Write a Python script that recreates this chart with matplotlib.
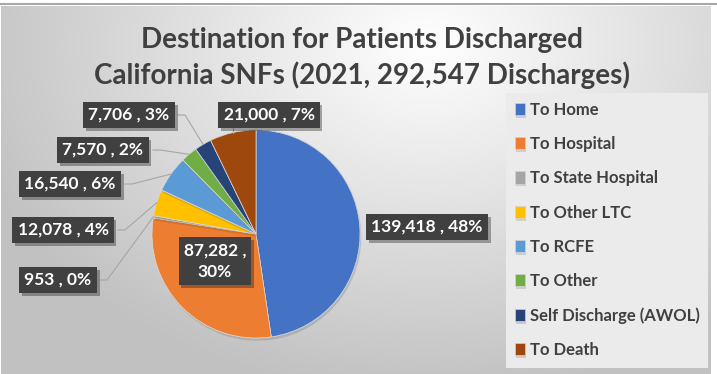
import numpy as np
import matplotlib.pyplot as plt
import matplotlib.patheffects as pe
from matplotlib.patches import Rectangle

plt.rcParams['font.family'] = ['Lato', 'DejaVu Sans']

categories = ["To Home", "To Hospital", "To State Hospital", "To Other LTC",
              "To RCFE", "To Other", "Self Discharge (AWOL)", "To Death"]
discharges = [139418, 87282, 953, 12078, 16540, 7570, 7706, 21000]
percents = [48, 30, 0, 4, 6, 2, 3, 7]   # as printed on the chart
colors = ["#4472C4", "#ED7D31", "#A5A5A5", "#FFC000",
          "#5B9BD5", "#70AD47", "#264478", "#9E480E"]

W, H = 717, 374
fig = plt.figure(figsize=(W / 100, H / 100), dpi=100)
fig.patch.set_facecolor("white")

# background gradient (radial, light near top centre)
bg = fig.add_axes([0.002, 0, 0.99, 0.985])
bg.set_axis_off()
yy, xx = np.mgrid[0:H, 0:W]
d = np.sqrt(((xx - 430) / 520.0) ** 2 + ((yy - 40) / 380.0) ** 2)
g = np.clip(1.0 - 0.26 * d, 0.76, 1.0)
bg.imshow(np.dstack([g, g, g]), aspect="auto", interpolation="bilinear")
fig.add_artist(plt.Line2D([0, 1], [0.988, 0.988], color="#a8a8a8", lw=1.5,
                          transform=fig.transFigure))

ax = fig.add_axes([0, 0, 1, 1])
ax.patch.set_alpha(0)

cx, cy, r = 256, H - 234, 104
wedges, _ = ax.pie(discharges, colors=colors, startangle=90, counterclock=False,
                   center=(cx, cy), radius=r,
                   wedgeprops=dict(linewidth=0.5, edgecolor="#d8d8d8"))
for w in wedges:
    w.set_path_effects([pe.withSimplePatchShadow(offset=(1, -2), alpha=0.15),
                        pe.Normal()])
ax.set_xlim(0, W)
ax.set_ylim(0, H)
ax.set_aspect("equal")
ax.set_axis_off()

labels = [f"{v:,} , {p}%" for v, p in zip(discharges, percents)]
labels[1] = labels[1].replace(" , ", " ,\n")

# label box centres (pixels from top-left) and offset of the leader start
label_pos = [(427, 227), (215, 261), (58, 280), (63, 230),
             (70, 184), (103, 150), (129, 115), (269, 115)]
box_edge = [None, None, 42, 55, 55, 50, 49, None]

for i, (w, lab) in enumerate(zip(wedges, labels)):
    lx, ly = label_pos[i]
    ly = H - ly
    if box_edge[i] is not None:
        ang = np.deg2rad((w.theta1 + w.theta2) / 2)
        px, py = cx + r * np.cos(ang), cy + r * np.sin(ang)
        ex = lx + box_edge[i]
        ax.plot([ex, ex + 7, px], [ly, ly, py], color="#a6a6a6", lw=0.8, zorder=3)
    t = ax.text(lx, ly, lab, ha="center", va="center", color="white",
                fontsize=12.5, fontweight="bold", linespacing=1.45, zorder=5,
                bbox=dict(boxstyle="square,pad=0.3", fc="#404040", ec="none"))
    t.get_bbox_patch().set_path_effects(
        [pe.withSimplePatchShadow(offset=(2, -2), alpha=0.35), pe.Normal()])
ax.plot([233, 233], [H - 128, H - 133], color="#a6a6a6", lw=0.8, zorder=3)

fig.text(0.505, 0.893, "Destination for Patients Discharged", ha="center",
         va="center", fontsize=20, fontweight="bold", color="#404040")
fig.text(0.505, 0.800, "California SNFs (2021, 292,547 Discharges)", ha="center",
         va="center", fontsize=20, fontweight="bold", color="#404040")

# legend panel
ax.add_patch(Rectangle((506, H - 368), 202, 275, fc="#ebebeb", ec="none", zorder=1))
leg = ax.legend(wedges, categories, loc="upper left",
                bbox_to_anchor=(515 / W, 1 - 102 / H), frameon=False,
                fontsize=12, handlelength=0.6, handleheight=0.75,
                handletextpad=0.3, labelspacing=1.09, borderpad=0,
                borderaxespad=0)
for txt in leg.get_texts():
    txt.set_fontweight("bold")
    txt.set_color("#404040")

fig.savefig("out.png", dpi=100)
